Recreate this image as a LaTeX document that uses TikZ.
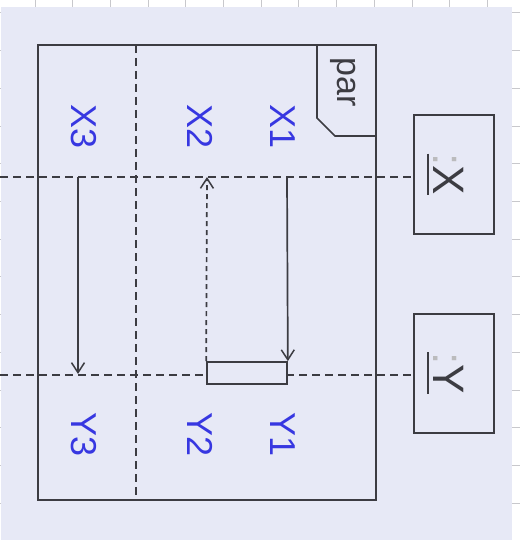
\documentclass[tikz,border=0pt]{standalone}
\usepackage{fontspec}
\setmainfont{Liberation Sans}
\usetikzlibrary{arrows.meta}
\definecolor{bgl}{RGB}{231,233,246}
\definecolor{gridc}{RGB}{200,200,204}
\definecolor{linec}{RGB}{60,60,66}
\definecolor{txtb}{RGB}{55,55,225}
\tikzset{
  frameline/.style={draw=linec, line width=2pt},
  lifeline/.style={draw=linec, line width=1.8pt, dash pattern=on 8pt off 5pt},
  msg/.style={draw=linec, line width=1.7pt, -{Straight Barb[length=10pt,width=13pt,line width=1.5pt]}},
  reply/.style={msg, dash pattern=on 5pt off 4pt},
  lbl/.style={text=txtb, font=\fontsize{36}{40}\selectfont, rotate=-90, inner sep=0pt},
  objbox/.style={draw=linec, line width=2pt, fill=bgl, minimum width=80pt, minimum height=119pt, inner sep=0pt},
  objtxt/.style={font=\fontsize{44}{48}\selectfont, text=linec, rotate=-90, inner sep=0pt},
  uline/.style={draw=linec, line width=2.2pt},
}
\begin{document}
\begin{tikzpicture}[x=1pt,y=-1pt]
\useasboundingbox (0,0) rectangle (520,540);
\fill[white] (0,0) rectangle (520,540);
\foreach \gx in {35,72.7,...,520} \draw[gridc, line width=1pt] (\gx,0) -- (\gx,540);
\foreach \gy in {13,50.7,...,540} \draw[gridc, line width=1pt] (0,\gy) -- (520,\gy);
\fill[bgl] (1,7) rectangle (512,540);
% frame
\draw[frameline] (38,45) rectangle (376,500);
\draw[lifeline, line width=1.6pt] (136,45) -- (136,500);
\draw[frameline, line width=1.6pt] (317,45) -- (317,118) -- (335,136) -- (376,136);
\node[font=\fontsize{34}{38}\selectfont, text=linec, rotate=-90, inner sep=0pt] (par) at (343,82) {par};
% object boxes
\node[objbox] (X) at (454,174.5) {};
\node[objtxt, anchor=base] (Xt) at (433,174.5) {{\color{linec!35}:}X};
\draw[uline] ([xshift=-5pt]Xt.south west) -- ([xshift=-5pt]Xt.south east);
\node[objbox] (Y) at (454,373) {};
\node[objtxt, anchor=base] (Yt) at (433,373) {{\color{linec!35}:}Y};
\draw[uline] ([xshift=-5pt]Yt.south west) -- ([xshift=-5pt]Yt.south east);
% lifelines
\coordinate (xs) at (0,177);
\coordinate (ys) at (0,375);
\draw[lifeline] (xs) -- (X.west |- xs);
\draw[lifeline] (ys) -- (Y.west |- ys);
% execution rect
\node[draw=linec, line width=1.7pt, fill=bgl, minimum width=80pt, minimum height=22pt, inner sep=0pt] (act) at (247,373) {};
% message ends
\coordinate (x1) at (287,177);
\coordinate (x2) at (207,177);
\coordinate (x3) at (78,177);
\coordinate (y3) at (78,374);
\draw[msg] (x1) -- (act.north east);
\draw[reply] (act.north west) -- (x2);
\draw[msg] (x3) -- (y3);
% labels
\node[lbl] (lx3) at (84,127) {X3};
\node[lbl] (lx2) at (200,127) {X2};
\node[lbl] (lx1) at (283,127) {X1};
\node[lbl] (ly3) at (84,435) {Y3};
\node[lbl] (ly2) at (200,435) {Y2};
\node[lbl] (ly1) at (283,435) {Y1};
\end{tikzpicture}
\end{document}
